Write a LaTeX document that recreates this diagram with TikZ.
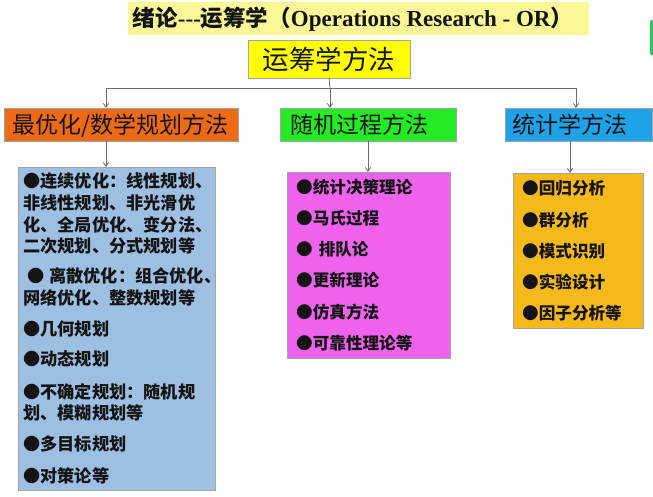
\documentclass[tikz,border=0pt]{standalone}
\usepackage{fontspec}
\setmainfont{Liberation Serif}
\newfontfamily\cjk{Noto Sans CJK SC}
\usetikzlibrary{arrows.meta}
\definecolor{titley}{RGB}{250,247,150}
\definecolor{rooty}{RGB}{255,255,0}
\definecolor{orangec}{RGB}{238,106,20}
\definecolor{greenc}{RGB}{35,236,35}
\definecolor{bluec}{RGB}{30,162,232}
\definecolor{listblue}{RGB}{156,191,226}
\definecolor{listmag}{RGB}{238,98,238}
\definecolor{listgold}{RGB}{245,185,28}
\definecolor{boxline}{RGB}{165,165,165}
\definecolor{connc}{RGB}{110,110,110}
\definecolor{txt}{RGB}{20,20,20}
\definecolor{sidegreen}{RGB}{40,200,90}
\begin{document}
\begin{tikzpicture}[x=1pt,y=-1pt,
  box/.style={draw=boxline, line width=0.6pt, inner sep=0pt, outer sep=0pt, anchor=north west},
  cattext/.style={anchor=west, inner sep=0pt, text=txt, font=\cjk\fontsize{23}{27}\selectfont, text height=20.2pt, text depth=2.8pt},
  itemtext/.style={anchor=west, inner sep=0pt, text=txt, font=\cjk\bfseries\fontsize{16.6}{20}\selectfont, text height=14.6pt, text depth=2pt},
  itemleft/.style={itemtext, font=\cjk\bfseries\fontsize{17.2}{20}\selectfont, text height=15.1pt, text depth=2.1pt},
  conn/.style={draw=connc, line width=0.8pt},
  arr/.style={conn, -{Straight Barb[length=4pt,width=5.5pt]}}]
\useasboundingbox (0,0) rectangle (653,496);
\fill[white] (0,0) rectangle (653,496);
\fill[sidegreen, rounded corners=1pt] (650,20) rectangle (655,55);
% title
\node[anchor=north west, fill=titley, inner sep=0pt, minimum width=461pt, minimum height=33pt] (ban) at (128,2) {};
\node[inner sep=0pt, text=txt, text height=18.5pt, text depth=3.5pt] (tt) at (353,18.5)
  {{\cjk\bfseries\fontsize{22.5}{26}\selectfont 绪论}{\fontsize{23}{26}\selectfont\bfseries -{}-{}-}{\cjk\bfseries\fontsize{22.5}{26}\selectfont 运筹学（}{\fontsize{23}{26}\selectfont\bfseries Operations Research - OR}{\cjk\bfseries\fontsize{22.5}{26}\selectfont ）}};
% root
\node[box, fill=rooty, minimum width=162pt, minimum height=38pt, text=txt,
  font=\cjk\fontsize{26.5}{30}\selectfont, text height=23.3pt, text depth=3.2pt] (root) at (248,40) {运筹学方法};
% categories
\node[box, fill=orangec, minimum width=234pt, minimum height=33pt] (c1) at (4,108) {};
\node[cattext] (c1t) at (12,124.5) {最优化/数学规划方法};
\node[box, fill=greenc, minimum width=176pt, minimum height=33pt] (c2) at (280,108) {};
\node[cattext] (c2t) at (290,124.5) {随机过程方法};
\node[box, fill=bluec, minimum width=147pt, minimum height=33pt] (c3) at (505,108) {};
\node[cattext] (c3t) at (512,124.5) {统计学方法};
% lists
\node[box, fill=listblue, minimum width=197pt, minimum height=323pt] (l1) at (18,167) {};
\node[box, fill=listmag, minimum width=163pt, minimum height=186pt] (l2) at (287,172) {};
\node[box, fill=listgold, minimum width=130pt, minimum height=155pt] (l3) at (513,173) {};
% connectors
\coordinate (jL) at (106,88);
\coordinate (jM) at (330,88);
\coordinate (jR) at (576,88);
\draw[conn] (root.south) -- (jM);
\draw[conn] (jL) -- (jR);
\draw[arr] (jL) -- (jL |- c1.north);
\draw[arr] (jM) -- (jM |- c2.north);
\draw[arr] (jR) -- (jR |- c3.north);
\draw[arr] (c1.south -| 106,0) -- (l1.north -| 106,0);
\draw[arr] (c2.south -| 368,0) -- (l2.north -| 368,0);
\draw[arr] (c3.south -| 570,0) -- (l3.north -| 570,0);
% left items
\foreach \xx/\yy/\tt [count=\i] in {
  23/181/{●连续优化：线性规划、},
  23/203/{非线性规划、非光滑优},
  23/225/{化、全局优化、变分法、},
  23/246/{二次规划、分式规划等},
  27/276/{●\hspace{5pt}离散优化：组合优化、},
  23/298/{网络优化、整数规划等},
  23/329/{●几何规划},
  23/359/{●动态规划},
  23/392/{●不确定规划：随机规},
  23/413/{划、模糊规划等},
  23/444/{●多目标规划},
  23/476/{●对策论等}}
  \node[itemleft] (a\i) at (\xx,\yy) {\tt};
% middle items
\foreach \yy/\tt [count=\i] in {
  187/{●统计决策理论},
  218/{●马氏过程},
  249/{●\hspace{6pt}排队论},
  280/{●更新理论},
  312/{●仿真方法},
  343/{●可靠性理论等}}
  \node[itemtext] (b\i) at (296,\yy) {\tt};
% right items
\foreach \yy/\tt [count=\i] in {
  188/{●回归分析},
  220/{●群分析},
  251/{●模式识别},
  282/{●实验设计},
  313/{●因子分析等}}
  \node[itemtext] (r\i) at (522,\yy) {\tt};
\end{tikzpicture}
\end{document}
